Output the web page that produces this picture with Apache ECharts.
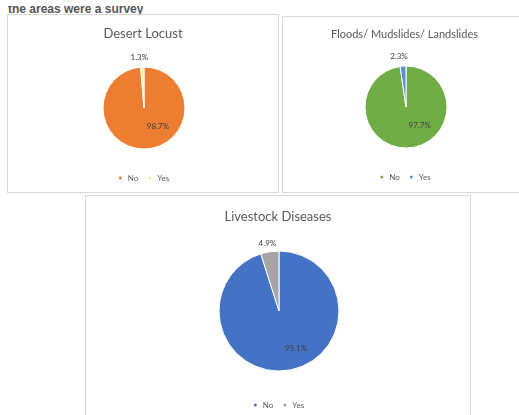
<!DOCTYPE html>
<html>
<head>
<meta charset="utf-8">
<script src="https://cdn.jsdelivr.net/npm/echarts@6/dist/echarts.min.js"></script>
<style>
  html, body { margin: 0; padding: 0; background: #fff; width: 519px; height: 415px; overflow: hidden; }
  .panel { position: absolute; border: 1px solid #d9d9d9; background: #fff; box-sizing: border-box; }
  #cap { position: absolute; left: 8px; top: 6px; height: 9px; overflow: hidden; font: bold 12px "Liberation Sans", sans-serif; color: #555; white-space: nowrap; }
  #cap span { position: relative; top: -4px; }
</style>
</head>
<body>
<div id="cap"><span>the areas were a survey</span></div>
<div class="panel" id="p1" style="left:7px; top:14px; width:272px; height:179px;"></div>
<div class="panel" id="p2" style="left:282px; top:16px; width:245px; height:177px;"></div>
<div class="panel" id="p3" style="left:85px; top:195px; width:386px; height:230px;"></div>
<script>
var categories = ['No', 'Yes'];

var locustValues = [98.7, 1.3];
var floodValues = [97.7, 2.3];
var livestockValues = [95.1, 4.9];

function pieOption(title, titleSize, values, colors, center, radius, titleTop, legendTop, bigOffset, smallOffset) {
	return {
		animation: false,
		color: colors,
		title: {
			text: title,
			left: 'center',
			top: titleTop,
			textStyle: { fontFamily: 'Lato', fontSize: titleSize, fontWeight: 'normal', color: '#595959' }
		},
		legend: {
			data: categories,
			top: legendTop,
			left: 'center',
			icon: 'circle',
			itemWidth: 5,
			itemHeight: 5,
			itemGap: 8,
			textStyle: { fontFamily: 'Lato', fontSize: 8, color: '#595959' }
		},
		series: [
			{
				type: 'pie',
				center: center,
				radius: radius,
				startAngle: 90,
				clockwise: true,
				itemStyle: { borderColor: '#fff', borderWidth: 1 },
				labelLine: { show: false, length: 4, length2: 0 },
				data: categories.map(function (name, i) {
					var item = { name: name, value: values[i] };
					if (i === 0) {
						item.label = { position: 'inside', offset: bigOffset };
					} else {
						item.label = { position: 'outside', offset: smallOffset };
					}
					return item;
				}),
				label: {
					formatter: function (p) { return p.value.toFixed(1) + '%'; },
					fontFamily: 'Lato',
					fontSize: 8,
					color: '#404040'
				}
			}
		]
	};
}

var c1 = echarts.init(document.getElementById('p1'));
c1.setOption(pieOption('Desert Locust', 13, locustValues, ['#ED7D31', '#EEF3A0'], [136, 93], 41, 7, 154, [13, -5], [11, -6]));

var c2 = echarts.init(document.getElementById('p2'));
c2.setOption(pieOption('Floods/ Mudslides/ Landslides', 11, floodValues, ['#70AD47', '#5B8FD5'], [123, 90], 41, 7, 151, [12, -5], [10, -6]));

var c3 = echarts.init(document.getElementById('p3'));
c3.setOption(pieOption('Livestock Diseases', 13, livestockValues, ['#4472C4', '#A5A5A5'], [193, 115], 60, 9, 200, [12, 5], [12, -4]));
</script>
</body>
</html>
